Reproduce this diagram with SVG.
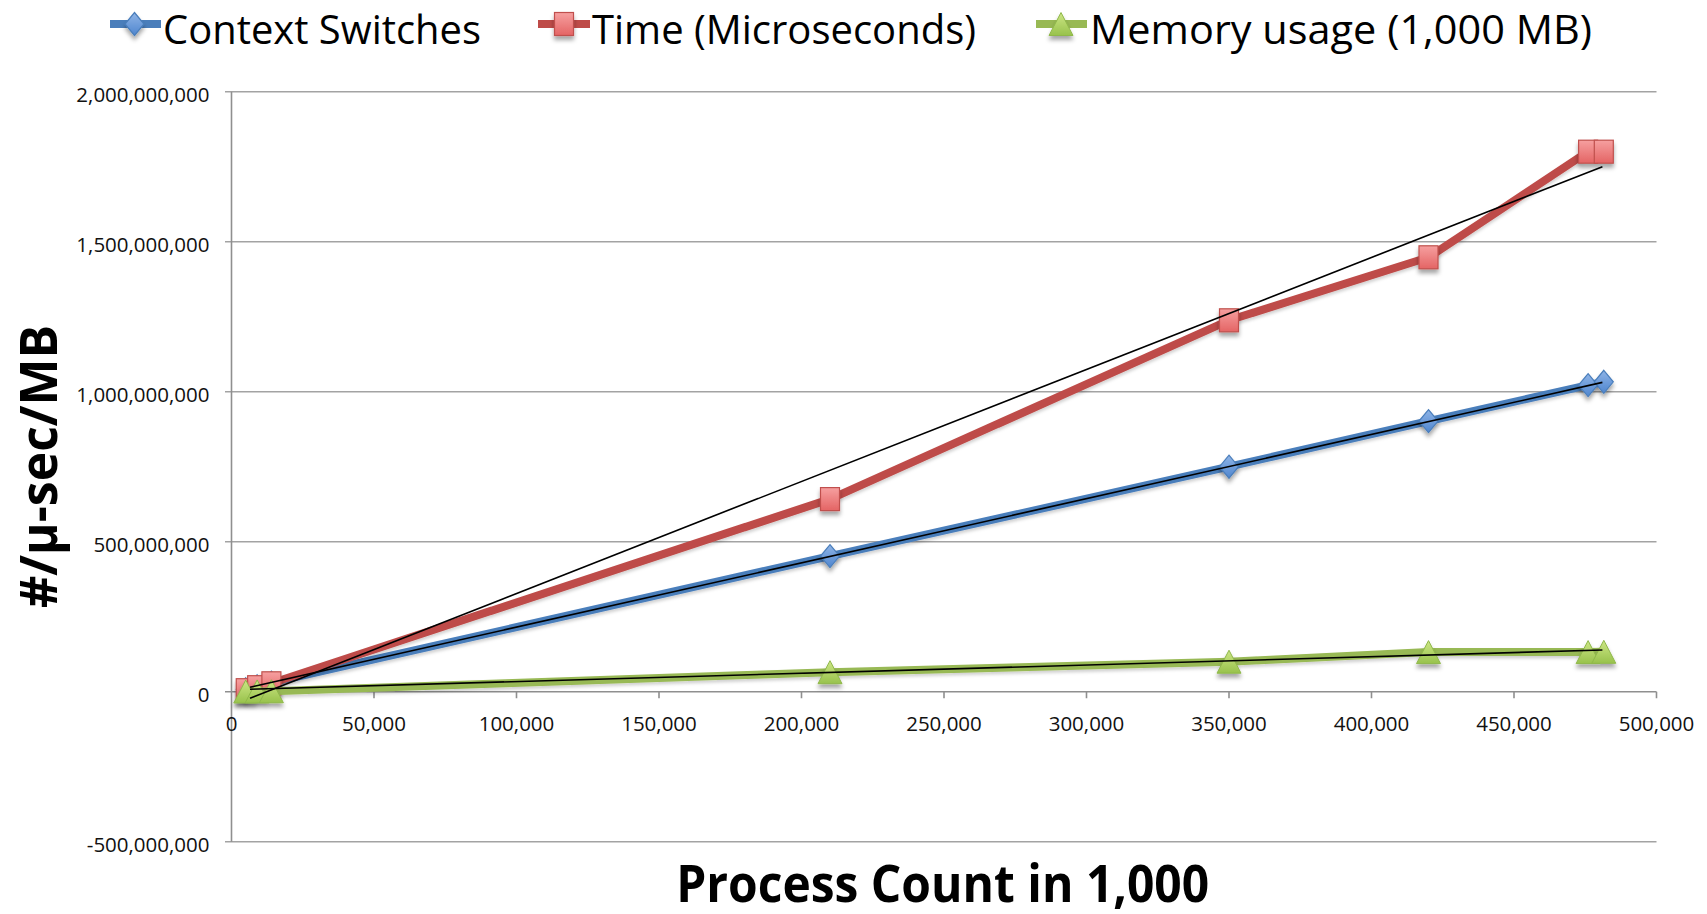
<svg xmlns="http://www.w3.org/2000/svg" xmlns:xlink="http://www.w3.org/1999/xlink" width="1707" height="914" viewBox="0 0 1707 914">
  <style>
    .grid { stroke: #a3a3a3; stroke-width: 1.4; fill: none; }
    .axis { stroke: #8f8f8f; stroke-width: 1.6; fill: none; }
    .tick { font-family: "Open Sans", "DejaVu Sans", sans-serif; font-size: 20.5px; fill: #111; }
    .legend { font-family: "Open Sans", "DejaVu Sans", sans-serif; font-size: 41px; fill: #000; }
    .title { font-family: "Open Sans", "DejaVu Sans", sans-serif; font-weight: bold; font-size: 52px; fill: #000; }
    .series { fill: none; stroke-width: 8; stroke-linejoin: round; stroke-linecap: butt; }
    .trend { fill: none; stroke: #000; stroke-width: 1.6; }
  </style>
  <defs>
    <filter id="shadow" x="-50%" y="-50%" width="200%" height="200%">
      <feDropShadow dx="0" dy="4" stdDeviation="2.2" flood-color="#000" flood-opacity="0.35"/>
    </filter>
    <filter id="lineShadow" x="-5%" y="-20%" width="110%" height="140%">
      <feDropShadow dx="0" dy="2.5" stdDeviation="1.5" flood-color="#000" flood-opacity="0.18"/>
    </filter>
    <linearGradient id="gBlue" x1="0" y1="0" x2="0" y2="1">
      <stop offset="0" stop-color="#8fb4e6"/>
      <stop offset="1" stop-color="#4f86cf"/>
    </linearGradient>
    <linearGradient id="gRed" x1="0" y1="0" x2="0" y2="1">
      <stop offset="0" stop-color="#f6a0a0"/>
      <stop offset="1" stop-color="#e46464"/>
    </linearGradient>
    <linearGradient id="gGreen" x1="0" y1="0" x2="0" y2="1">
      <stop offset="0" stop-color="#cde685"/>
      <stop offset="1" stop-color="#98c24c"/>
    </linearGradient>
    <polygon id="diamond" points="0,-11.5 9.5,0 0,11.5 -9.5,0" fill="url(#gBlue)" stroke="#4a7ebb" stroke-width="1.2"/>
    <rect id="square" x="-9.5" y="-11.5" width="19" height="23" fill="url(#gRed)" stroke="#c0504d" stroke-width="1.2"/>
    <polygon id="triangle" points="0,-11.5 12,11.5 -12,11.5" fill="url(#gGreen)" stroke="#8fb84a" stroke-width="1"/>
  </defs>

  <rect width="1707" height="914" fill="#fff"/>

  <!-- legend -->
  <g id="legend">
    <g id="legend-context">
      <line x1="110" y1="24" x2="161" y2="24" class="series" stroke="#4a7ebb"/>
      <use href="#diamond" x="134.5" y="24" filter="url(#shadow)"/>
      <text class="legend" x="163" y="43.5" textLength="318" lengthAdjust="spacingAndGlyphs">Context Switches</text>
    </g>
    <g id="legend-time">
      <line x1="538" y1="24" x2="590" y2="24" class="series" stroke="#be4b48"/>
      <use href="#square" x="564" y="24" filter="url(#shadow)"/>
      <text class="legend" x="592" y="43.5" textLength="384" lengthAdjust="spacingAndGlyphs">Time (Microseconds)</text>
    </g>
    <g id="legend-memory">
      <line x1="1036" y1="24" x2="1087" y2="24" class="series" stroke="#98b954"/>
      <use href="#triangle" x="1061" y="24" filter="url(#shadow)"/>
      <text class="legend" x="1090" y="43.5" textLength="502" lengthAdjust="spacingAndGlyphs">Memory usage (1,000 MB)</text>
    </g>
  </g>

  <!-- gridlines and axes -->
  <g id="grid">
    <line class="grid" x1="225" y1="91.7" x2="1656.5" y2="91.7"/>
    <line class="grid" x1="225" y1="241.7" x2="1656.5" y2="241.7"/>
    <line class="grid" x1="225" y1="391.7" x2="1656.5" y2="391.7"/>
    <line class="grid" x1="225" y1="541.7" x2="1656.5" y2="541.7"/>
    <line class="grid" x1="225" y1="841.7" x2="1656.5" y2="841.7"/>
  </g>
  <g id="axes">
    <line class="axis" x1="231.5" y1="91.7" x2="231.5" y2="841.7"/>
    <line class="axis" x1="225" y1="691.7" x2="1656.5" y2="691.7"/>
    <path class="axis" d="M374,691.7v6.6 M516.5,691.7v6.6 M659,691.7v6.6 M801.5,691.7v6.6 M944,691.7v6.6 M1086.5,691.7v6.6 M1229,691.7v6.6 M1371.5,691.7v6.6 M1514,691.7v6.6 M1656.5,691.7v6.6"/>
  </g>

  <!-- value axis labels -->
  <g id="y-labels" class="tick" text-anchor="end">
    <text x="209.5" y="101.7">2,000,000,000</text>
    <text x="209.5" y="251.7">1,500,000,000</text>
    <text x="209.5" y="401.7">1,000,000,000</text>
    <text x="209.5" y="551.7">500,000,000</text>
    <text x="209.5" y="701.7">0</text>
    <text x="209.5" y="851.7">-500,000,000</text>
  </g>

  <!-- category axis labels -->
  <g id="x-labels" class="tick" text-anchor="middle">
    <text x="231.5" y="730.7">0</text>
    <text x="374" y="730.7">50,000</text>
    <text x="516.5" y="730.7">100,000</text>
    <text x="659" y="730.7">150,000</text>
    <text x="801.5" y="730.7">200,000</text>
    <text x="944" y="730.7">250,000</text>
    <text x="1086.5" y="730.7">300,000</text>
    <text x="1229" y="730.7">350,000</text>
    <text x="1371.5" y="730.7">400,000</text>
    <text x="1514" y="730.7">450,000</text>
    <text x="1656.5" y="730.7">500,000</text>
  </g>

  <!-- axis titles -->
  <text id="y-title" class="title" text-anchor="middle" transform="translate(57,466.5) rotate(-90)" textLength="283" lengthAdjust="spacingAndGlyphs">#/µ-sec/MB</text>
  <text id="x-title" class="title" text-anchor="middle" x="942.7" y="902" font-size="51" textLength="533" lengthAdjust="spacingAndGlyphs">Process Count in 1,000</text>

  <!-- data series -->
  <g id="series-context">
    <polyline class="series" stroke="#4a7ebb" filter="url(#lineShadow)" points="245.75,689.3 257.15,686.3 271.4,682.7 830,556.1 1229,466.7 1428.5,421.1 1588.1,385.1 1603.8,381.8"/>
    <g filter="url(#shadow)">
      <use href="#diamond" x="245.75" y="689.3"/>
      <use href="#diamond" x="257.15" y="686.3"/>
      <use href="#diamond" x="271.4" y="682.7"/>
      <use href="#diamond" x="830" y="556.1"/>
      <use href="#diamond" x="1229" y="466.7"/>
      <use href="#diamond" x="1428.5" y="421.1"/>
      <use href="#diamond" x="1588.1" y="385.1"/>
      <use href="#diamond" x="1603.8" y="381.8"/>
    </g>
  </g>
  <g id="series-time">
    <polyline class="series" stroke="#be4b48" filter="url(#lineShadow)" points="245.75,690.2 257.15,687.2 271.4,683.3 830,499.1 1229,320.3 1428.5,257.3 1588.1,151.7 1603.8,151.7"/>
    <g filter="url(#shadow)">
      <use href="#square" x="245.75" y="690.2"/>
      <use href="#square" x="257.15" y="687.2"/>
      <use href="#square" x="271.4" y="683.3"/>
      <use href="#square" x="830" y="499.1"/>
      <use href="#square" x="1229" y="320.3"/>
      <use href="#square" x="1428.5" y="257.3"/>
      <use href="#square" x="1588.1" y="151.7"/>
      <use href="#square" x="1603.8" y="151.7"/>
    </g>
  </g>
  <g id="series-memory">
    <polyline class="series" stroke="#98b954" filter="url(#lineShadow)" points="245.75,691.5 257.15,691.4 271.4,691.25 830,672.2 1229,661.7 1428.5,652.1 1588.1,652.1 1603.8,651.8"/>
    <g filter="url(#shadow)">
      <use href="#triangle" x="245.75" y="691.5"/>
      <use href="#triangle" x="257.15" y="691.4"/>
      <use href="#triangle" x="271.4" y="691.25"/>
      <use href="#triangle" x="830" y="672.2"/>
      <use href="#triangle" x="1229" y="661.7"/>
      <use href="#triangle" x="1428.5" y="652.1"/>
      <use href="#triangle" x="1588.1" y="652.1"/>
      <use href="#triangle" x="1603.8" y="651.8"/>
    </g>
  </g>

  <!-- linear trendlines -->
  <g id="trendlines">
    <line class="trend" x1="250" y1="687.2" x2="1602.4" y2="382.4"/>
    <line class="trend" x1="250" y1="698.3" x2="1602.4" y2="166.7"/>
    <line class="trend" x1="250" y1="689.3" x2="1602.4" y2="650"/>
  </g>
</svg>
